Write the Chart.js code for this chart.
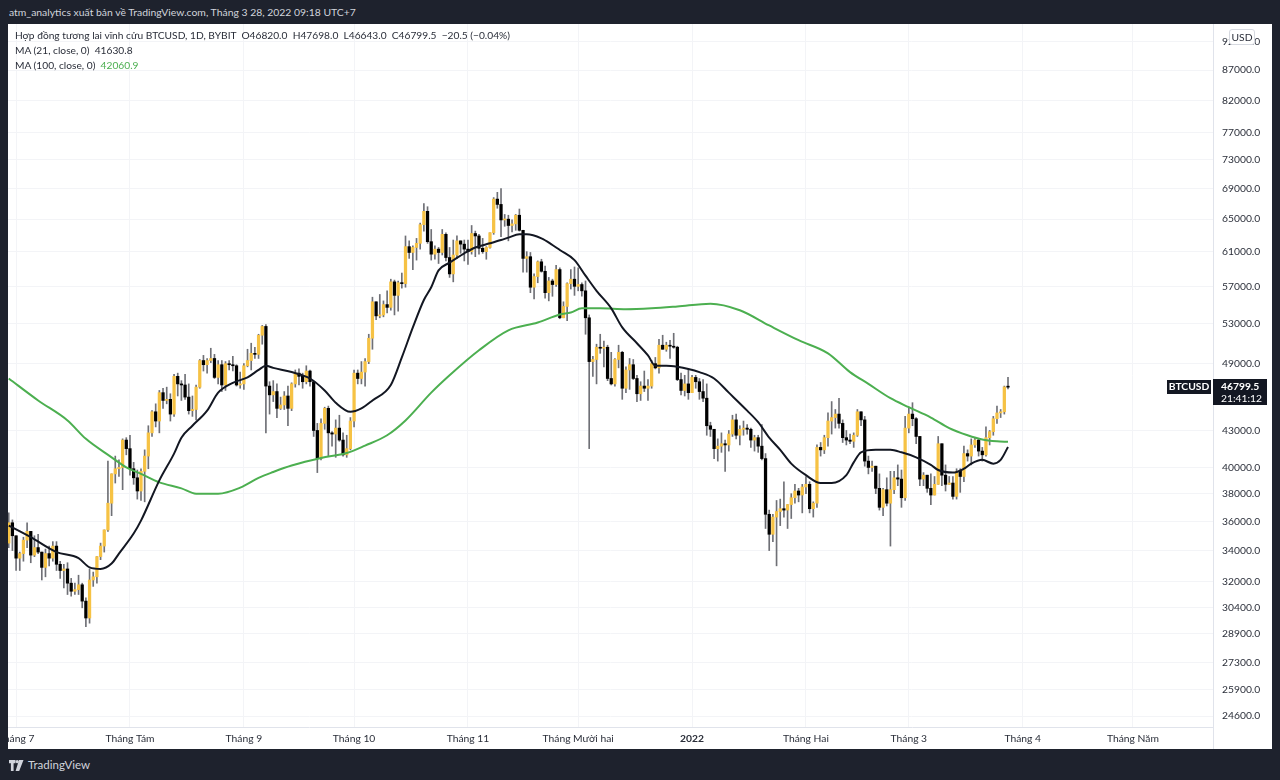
<!DOCTYPE html>
<html lang="vi">
<head>
<meta charset="UTF-8">
<title>BTCUSD 1D BYBIT</title>
<script src="https://cdn.jsdelivr.net/npm/chart.js"></script>
<style>
  body {
    margin: 0;
    width: 1280px;
    height: 780px;
    overflow: hidden;
    background: #1e222d;
    font-family: Lato, sans-serif;
    position: relative;
  }
  #hdr {
    position: absolute;
    left: 9px;
    top: 4px;
    color: #d1d4dc;
    font-size: 10.4px;
    line-height: 16px;
  }
  #panel {
    position: absolute;
    left: 8px;
    top: 24px;
    width: 1264px;
    height: 725px;
    background: #fff;
  }
  #legend {
    position: absolute;
    left: 7px;
    top: 4px;
    font-size: 10.2px;
    line-height: 15px;
    color: #2a2e39;
    white-space: pre;
  }
  #legend .green { color: #4caf50; }
  #usd {
    position: absolute;
    left: 1221px;
    top: 5px;
    width: 24px;
    height: 14px;
    border: 1px solid #d6d9e0;
    border-radius: 3px;
    background: #fff;
    font-size: 10.3px;
    line-height: 14px;
    text-align: center;
    color: #2a2e39;
  }
  #footer {
    position: absolute;
    left: 9px;
    top: 758px;
    color: #d1d4dc;
    font-size: 11.5px;
    line-height: 14px;
    display: flex;
    align-items: center;
    gap: 4px;
  }
</style>
</head>
<body>
<div id="hdr">atm_analytics xuất bản về TradingView.com, Tháng 3 28, 2022 09:18 UTC+7</div>
<div id="panel">
  <canvas id="chart" width="1264" height="725"></canvas>
  <div id="legend">Hợp đồng tương lai vĩnh cửu BTCUSD, 1D, BYBIT  O46820.0  H47698.0  L46643.0  C46799.5  −20.5 (−0.04%)
MA (21, close, 0)  41630.8
MA (100, close, 0)  <span class="green">42060.9</span></div>
  <div id="usd">USD</div>
</div>
<div id="footer">
  <svg width="15" height="11" viewBox="0 0 15 11">
    <path d="M0 0h6.5v3.2H4.6V11H1.9V3.2H0z M10 0h4.5L10.2 11H6.6z" fill="#d1d4dc"/>
    <circle cx="8.2" cy="1.6" r="1.6" fill="#d1d4dc"/>
  </svg>
  <span>TradingView</span>
</div>

<script>
  // daily candles, first one is 29 Jun 2021 (day -2, day 0 = 1 Jul 2021)
  const firstDay = -2;

  const opens = [
    34500, 35900,
    35000,33500,33800,34700,35300,33700,34200,33900,32900,33800,33500,34300,33100,32700,32800,31900,31400,31500,31800,30800,29800,32100,32300,33600,34300,35400,37300,39500,39900,40000,42200,
    41500,39900,39200,38200,39700,40900,42800,44600,43800,46300,45600,45700,44400,47800,47100,47000,45900,44700,44800,46800,49300,48900,49300,49500,47700,48900,47000,49000,48900,48800,47000,
    47100,48800,49300,50000,49900,51800,52700,46900,46100,46400,44900,45200,46000,44900,47100,48100,47800,47300,48300,47300,43000,40700,43600,44900,42800,42700,43200,42200,41000,41500,
    43800,48100,47600,48200,49200,51500,55300,53800,53900,55000,54700,57500,56000,57400,57300,61600,60900,61500,62000,64300,66000,62200,60700,61300,60900,63100,60300,58400,60600,62300,61900,
    61300,61000,63200,62900,61400,61000,61500,63300,67600,66900,64900,65000,64200,64400,65500,63600,60200,60400,56900,58100,59800,58700,56300,57600,57200,58900,53600,54800,57300,57800,
    57000,57200,56500,53600,49200,49400,50600,50500,50600,47600,47100,49400,50100,46700,48400,48900,47600,46200,46900,46700,46900,49000,48600,50800,50400,50800,50700,50600,47500,46500,47100,
    46300,47700,47300,46400,45800,43400,43100,41500,41700,41900,41800,42700,43900,42600,43100,43200,43100,42200,42400,41700,40700,36500,35100,36300,36700,36900,36800,37200,37700,38200,37900,
    38500,38700,36900,37300,41600,41400,42400,43800,44100,44400,43600,42400,42200,42100,42600,44600,43900,40500,40000,40100,38400,37000,38300,37300,38300,39200,39100,37700,
    43200,44400,44000,42500,39100,39400,38400,37900,38700,41900,39400,38700,38800,37800,39700,39300,41100,40900,41800,42200,41300,41000,42400,42900,44000,44500,44600,46820
  ];
  const highs = [
    36600, 36100,
    35000,33900,34900,35900,35300,35000,35100,33900,34100,34300,34600,34600,33300,33100,33200,32200,31900,32400,31900,31000,32800,32600,33600,34500,35400,40500,39500,40900,40600,42300,42400,
    42600,40400,39800,39900,41400,43400,44700,45300,46500,46700,46800,46200,48000,48100,47400,48000,47100,46000,47000,49400,49800,49500,50500,49900,49300,49300,49200,49300,49700,48900,48200,
    49000,50400,51000,50600,51900,52800,52900,47300,47400,47100,45900,46400,46900,47200,48400,48500,48100,48800,48400,47300,43600,44000,45000,45100,42900,43900,44300,42800,42600,44100,
    48400,48400,49200,49500,51900,55800,55300,56100,55400,56500,57800,57700,57600,58500,62900,62300,61700,62600,64500,67000,66600,63700,61700,61500,63700,63300,61500,62400,62900,62300,62400,
    62400,64200,63500,63100,62600,61600,63300,67800,68500,69000,65600,65500,64900,65600,66300,63600,61000,60900,58400,59900,60100,59300,58000,57800,59400,59100,55300,57400,58900,59200,
    59100,57400,57600,53900,49700,50900,51900,51200,50800,50100,49500,50800,50200,48700,49500,49400,47900,47300,48300,47500,49300,49600,51400,51800,51100,51300,52000,50700,48100,47900,48500,
    47900,47900,47600,47500,47100,43700,43100,42300,42800,42200,43000,44300,44400,43400,43800,43500,43200,42600,42600,43500,41100,36800,36500,37500,37600,38900,37200,38000,38700,38400,38700,
    39300,38900,37400,41800,42000,42600,44500,45500,44800,45800,43900,43000,42700,42800,44800,44600,44200,40900,40500,40100,39500,38400,39200,39700,39700,40200,39800,44200,
    44900,45400,44100,42500,39600,39400,39500,39300,42500,41900,40200,39300,39300,39900,39900,41700,41400,42300,42400,42300,41600,43300,43000,44200,45100,44800,46900,47698
  ];
  const lows = [
    34200, 34000,
    32700,32700,33300,34200,33200,33600,33800,32100,32300,33000,33300,32700,32200,31600,31200,31100,31200,31200,30400,29300,29500,31700,31900,33400,33900,35300,36400,38800,39300,38300,41000,
    39400,38700,37600,37500,37400,39900,42500,43300,42800,44900,45300,43800,44200,46000,45600,45700,44400,44200,43900,46700,48300,48100,49100,47600,47100,46400,46500,48400,48300,46900,46700,
    46600,48700,48400,49500,49500,50900,42800,44400,45500,44100,44800,44800,43400,44700,46800,47000,46700,47100,46900,42500,39600,40600,43100,40900,41700,40800,42100,40900,40800,41400,
    43300,47100,47100,46900,49000,50400,53400,53600,53700,54100,54400,53900,54300,56800,56900,60200,58900,60000,61300,63500,62000,60000,60100,59600,60600,59900,58000,57500,60200,60800,59900,
    59500,60700,60400,60700,60800,60100,61400,63100,66400,62800,64100,62300,63400,63600,63500,58600,58600,56300,55600,57400,58600,55700,55400,55900,57000,53500,53600,53300,56700,56000,
    56500,55900,51900,41500,47800,47100,50000,48700,47400,47000,46900,48600,45700,46300,46600,47500,45500,45600,46400,45600,46700,48500,48100,50400,50200,49500,50500,47400,46100,46000,45700,
    46300,46700,45700,45500,42600,42500,40700,40500,41200,39700,41300,42500,42300,41800,42600,42700,41600,41300,41200,40600,35500,34000,34600,33000,35700,36300,35500,36200,37300,37400,36600,
    38000,36600,36300,37000,40900,41100,41700,42700,43200,43200,42000,41800,41900,41600,42500,43400,40100,39500,39700,38000,36800,36400,37100,34300,38000,38600,37000,37500,
    42800,43400,41900,38600,38600,38100,37200,37900,38700,38600,38200,38700,37600,37600,38100,38900,40500,40200,41600,40900,40500,40900,41800,42600,43600,44100,44400,46643
  ];
  const closes = [
    35900, 35000,
    33500,33800,34700,35300,33700,34200,33900,32900,33800,33500,34300,33100,32700,32800,31900,31400,31500,31800,30800,29800,32100,32300,33600,34300,35400,37300,39500,39900,40000,42200,41500,
    39900,39200,38200,39700,40900,42800,44600,43800,46300,45600,45700,44400,47800,47100,47000,45900,44700,44800,46800,49300,48900,49300,49500,47700,48900,47000,49000,48900,48800,47000,47100,
    48800,49300,50000,49900,51800,52700,46900,46100,46400,44900,45200,46000,44900,47100,48100,47800,47300,48300,47300,43000,40700,43600,44900,42800,42700,43200,42200,41000,41500,43800,
    48100,47600,48200,49200,51500,55300,53800,53900,55000,54700,57500,56000,57400,57300,61600,60900,61500,62000,64300,66000,62200,60700,61300,60900,63100,60300,58400,60600,62300,61900,61300,
    61000,63200,62900,61400,61000,61500,63300,67600,66900,64900,65000,64200,64400,65500,63600,60200,60400,56900,58100,59800,58700,56300,57600,57200,58900,53600,54800,57300,57800,57000,
    57200,56500,53600,49200,49400,50600,50500,50600,47600,47100,49400,50100,46700,48400,48900,47600,46200,46900,46700,46900,49000,48600,50800,50400,50800,50700,50600,47500,46500,47100,46300,
    47700,47300,46400,45800,43400,43100,41500,41700,41900,41800,42700,43900,42600,43100,43200,43100,42200,42400,41700,40700,36500,35100,36300,36700,36900,36800,37200,37700,38200,37900,38500,
    38700,36900,37300,41600,41400,42400,43800,44100,44400,43600,42400,42200,42100,42600,44600,43900,40500,40000,40100,38400,37000,38300,37300,38300,39200,39100,37700,43200,
    44400,44000,42500,39100,39400,38400,37900,38700,41900,39400,38700,38800,37800,39700,39300,41100,40900,41800,42200,41300,41000,42400,42900,44000,44500,44600,46820,46799.5
  ];

  // moving averages (day, value)
  const ma21Days = [-2,4,11,17,20,23,26,28,32,34,39,43,45,48,52,55,59,63,66,68,70,75,80,84,87,91,94,97,102,105,108,111,113,115,118,122,125,129,132,134,137,139,143,146,148,152,155,158,162,165,169,172,174,177,180,183,186,190,194,199,202,205,208,211,215,219,222,226,228,230,234,238,241,245,249,251,255,258,260,263,266,268,270];
  const ma21Values = [35700,34900,33900,33500,32900,32800,33150,33800,35150,36050,39000,41100,42400,43400,44700,46300,47200,47700,48400,48800,48600,48200,47600,46500,45400,44600,44900,45600,47000,49600,52600,55500,56900,58800,59700,60800,61500,62000,62400,62700,63100,63100,62600,61800,61200,60000,58200,56500,54600,52600,51000,49800,48800,48800,48700,48500,48200,47600,46300,44700,43700,42400,41400,40300,39400,38800,38800,39400,40400,41200,41400,41400,41200,40800,40200,39800,39600,39900,40300,40600,40300,40600,41630.8];

  const ma100Days = [-2,6,14,19,26,30,34,39,45,49,55,61,66,70,75,83,90,95,101,106,113,118,126,134,142,148,151,154,159,166,173,180,189,197,205,213,221,227,232,238,243,249,254,259,263,267,270];
  const ma100Values = [47600,45600,43850,42300,40800,40000,39500,38850,38400,38000,38000,38450,39200,39650,40150,40750,41150,41750,42600,43850,46300,47900,50300,52300,53100,53950,54150,54600,54600,54500,54600,54800,55100,54400,52800,51300,50000,48200,47100,45800,45000,44100,43200,42600,42250,42100,42060.9];

  const monthDays = [0, 31, 62, 92, 123, 153, 184, 215, 243, 274, 304];
  const monthLabels = ['Tháng 7', 'Tháng Tám', 'Tháng 9', 'Tháng 10', 'Tháng 11', 'Tháng Mười hai', '2022', 'Tháng Hai', 'Tháng 3', 'Tháng 4', 'Tháng Năm'];

  const priceTicks = [92000, 87000, 82000, 77000, 73000, 69000, 65000, 61000, 57000, 53000, 49000, 43000, 40000, 38000, 36000, 34000, 32000, 30400, 28900, 27300, 25900, 24600];

  const countdown = '21:41:12';

  if (new Set([opens.length, highs.length, lows.length, closes.length]).size !== 1) {
    throw new Error('candle arrays differ: ' + [opens.length, highs.length, lows.length, closes.length]);
  }

  const UP = '#f6c244';
  const DOWN = '#000000';
  const WICK = '#6f7076';
  const GRID = '#f3f4f7';
  const AXIS = '#e0e3eb';
  const TXT = '#2a2e39';
  const FONT = 'Lato';
  const FSIZE = 10.3;

  const wickData = opens.map((o, i) => ({ x: firstDay + i, y: [lows[i], highs[i]] }));
  const bodyData = opens.map((o, i) => ({ x: firstDay + i, y: [Math.min(o, closes[i]), Math.max(o, closes[i])] }));
  const bodyColors = opens.map((o, i) => closes[i] >= o ? UP : DOWN);

  const lastPrice = {
    id: 'lastPrice',
    afterDraw(chart) {
      const { ctx, chartArea, scales } = chart;
      const r = chartArea.right;
      const last = closes[closes.length - 1];
      const y = Math.round(scales.y.getPixelForValue(last));
      ctx.save();
      // price scale divider runs full height
      ctx.strokeStyle = AXIS;
      ctx.lineWidth = 1;
      ctx.beginPath();
      ctx.moveTo(r + 0.5, 0);
      ctx.lineTo(r + 0.5, chart.height);
      ctx.stroke();

      ctx.fillStyle = '#131722';
      ctx.fillRect(r, y - 8, 54, 26);
      ctx.fillRect(r - 46, y - 7, 44, 14);

      ctx.fillStyle = '#ffffff';
      ctx.textBaseline = 'middle';
      ctx.font = 'bold ' + FSIZE + 'px ' + FONT;
      ctx.textAlign = 'left';
      ctx.fillText(last.toFixed(1), r + 8, y);
      ctx.font = FSIZE + 'px ' + FONT;
      ctx.fillText(countdown, r + 8, y + 12);
      ctx.font = 'bold ' + FSIZE + 'px ' + FONT;
      ctx.textAlign = 'center';
      ctx.fillText('BTCUSD', r - 24, y);
      ctx.restore();
    }
  };

  new Chart(document.getElementById('chart'), {
    data: {
      datasets: [
        {
          type: 'line',
          label: 'MA 21',
          data: ma21Days.map((d, i) => ({ x: d, y: ma21Values[i] })),
          borderColor: '#131722',
          borderWidth: 2,
          pointRadius: 0,
          cubicInterpolationMode: 'monotone',
          order: 0
        },
        {
          type: 'line',
          label: 'MA 100',
          data: ma100Days.map((d, i) => ({ x: d, y: ma100Values[i] })),
          borderColor: '#4caf50',
          borderWidth: 2,
          pointRadius: 0,
          cubicInterpolationMode: 'monotone',
          order: 0
        },
        {
          type: 'bar',
          label: 'body',
          data: bodyData,
          backgroundColor: bodyColors,
          barThickness: 2.6,
          minBarLength: 1,
          grouped: false,
          order: 1
        },
        {
          type: 'bar',
          label: 'wick',
          data: wickData,
          backgroundColor: WICK,
          barThickness: 1,
          grouped: false,
          order: 2
        }
      ]
    },
    options: {
      responsive: false,
      animation: false,
      layout: { padding: 0 },
      plugins: {
        legend: { display: false },
        tooltip: { enabled: false }
      },
      scales: {
        x: {
          type: 'linear',
          min: -2.2,
          max: 325.8,
          offset: false,
          grid: { color: GRID, drawTicks: false, offset: false },
          border: { display: true, color: AXIS },
          ticks: {
            autoSkip: false,
            maxRotation: 0,
            padding: 5,
            color: TXT,
            font: c => ({ family: FONT, size: FSIZE, weight: c.tick && c.tick.value === 184 ? 'bold' : 'normal' }),
            callback: v => {
              const k = monthDays.indexOf(v);
              return k >= 0 ? monthLabels[k] : '';
            }
          },
          afterBuildTicks: s => { s.ticks = monthDays.map(v => ({ value: v })); },
          afterFit: s => { s.height = 22; s.paddingLeft = 0; s.paddingRight = 0; }
        },
        y: {
          type: 'logarithmic',
          position: 'right',
          min: 24080,
          max: 95200,
          grid: { color: GRID, drawTicks: false },
          border: { display: true, color: AXIS },
          ticks: {
            padding: 9,
            color: TXT,
            font: { family: FONT, size: FSIZE },
            callback: v => Number(v).toFixed(1)
          },
          afterBuildTicks: s => { s.ticks = priceTicks.map(v => ({ value: v })); },
          afterFit: s => { s.width = 59; s.paddingTop = 0; s.paddingBottom = 0; }
        }
      }
    },
    plugins: [lastPrice]
  });
</script>
</body>
</html>
